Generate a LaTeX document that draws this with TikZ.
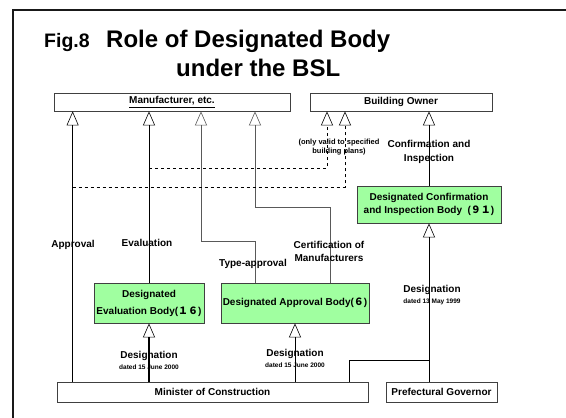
\documentclass[tikz,border=0pt]{standalone}
\usepackage{fontspec}
\setmainfont{Liberation Sans}
\newfontfamily\cjk{Noto Sans CJK JP}
\usetikzlibrary{arrows.meta}
\definecolor{gfill}{RGB}{160,255,160}
\begin{document}
\begin{tikzpicture}[x=1pt,y=-1pt,
  box/.style={draw=black!75, line width=0.7pt, fill=white, inner sep=0pt,
    font=\bfseries\fontsize{10}{12}\selectfont, align=center},
  gbox/.style={box, fill=gfill},
  arr/.style={-{Triangle[open,length=14pt,width=12pt,line width=0.6pt]}, line width=0.6pt},
  lbl/.style={font=\bfseries\fontsize{10}{13}\selectfont, inner sep=0pt, align=center},
  tiny/.style={font=\bfseries\fontsize{7.5}{8.5}\selectfont, inner sep=0pt, align=center},
  desig/.style={inner sep=0pt, align=center},
  ttl/.style={inner sep=0pt, anchor=base west, font=\bfseries\fontsize{24}{28}\selectfont}
]
\useasboundingbox (0,0) rectangle (566,418);
\fill[white] (0,0) rectangle (566,418);
% frame
\draw[line width=1.5pt, black!90] (13,430) -- (13,10) -- (580,10);
% title
\node[ttl, font=\bfseries\fontsize{19.5}{22}\selectfont] (fig) at (44,47) {Fig.8};
\node[ttl] (t1) at (106,47.5) {Role of Designated Body};
\node[ttl] (t2) at (176,76) {under the BSL};
% boxes
\node[box, minimum width=236pt, minimum height=18pt] (manu) at (172,102) {\underline{Manufacturer, etc.}};
\node[box, minimum width=182pt, minimum height=18pt] (owner) at (401,102) {Building Owner};
\node[gbox, minimum width=144pt, minimum height=37pt, font=\bfseries\fontsize{10}{13}\selectfont] (conf) at (429,204.5) {Designated Confirmation\\and Inspection Body\ \ (\cjk\bfseries ９１\rmfamily\bfseries)};
\node[gbox, minimum width=110pt, minimum height=40pt, font=\bfseries\fontsize{10}{17}\selectfont] (eval) at (149,303) {Designated\\Evaluation Body(\cjk\bfseries １６\rmfamily\bfseries)};
\node[gbox, minimum width=148pt, minimum height=40pt] (appr) at (295,303) {Designated Approval Body(\cjk\bfseries ６\rmfamily\bfseries)};
\node[box, minimum width=311pt, minimum height=20pt] (mini) at (212.5,392) {Minister of Construction};
\node[box, minimum width=111pt, minimum height=20pt] (pref) at (441.5,392) {Prefectural Governor};
% helper coordinates
\path (mini.north west) ++(16,0) coordinate (m1);
\path (appr.north west) ++(35,0) coordinate (ta);
\path (appr.north west) ++(110,0) coordinate (cm);
\path (eval.south) ++(0,14) coordinate (es);
\coordinate (tabend) at (201,241);
\coordinate (cmbend) at (255,207);
\coordinate (d1) at (327,168);
\coordinate (d2) at (345,187);
\coordinate (mb) at (349,360);
% connectors to Manufacturer
\draw[arr] (m1) -- (m1 |- manu.south);
\draw[arr] (eval.north) -- (eval.north |- manu.south);
\draw[arr, black!65] (ta) |- (tabend) -- (tabend |- manu.south);
\draw[arr, black!65] (cm) |- (cmbend) -- (cmbend |- manu.south);
% dashed to Building Owner
\draw[arr, dashed] (eval.north |- d1) -- (d1) -- (d1 |- owner.south);
\draw[arr, dashed] (m1 |- d2) -- (d2) -- (d2 |- owner.south);
% confirmation
\draw[arr] (conf.north) -- (conf.north |- owner.south);
\draw[arr] (conf.south |- pref.north) -- (conf.south);
\draw[line width=0.6pt] (mb |- mini.north) |- (mb -| conf.south);
% designations from Minister
\draw[line width=1.6pt] (es |- mini.north) -- (es);
\draw[arr] (es) -- (eval.south);
\draw[arr] (appr.south |- mini.north) -- (appr.south);
% labels
\node[lbl] (lapp) at (73,245) {Approval};
\node[lbl] (leva) at (147,243) {Evaluation};
\node[lbl] (ltyp) at (253,264) {Type-approval};
\node[lbl] (lcer) at (329,251.5) {Certification of\\Manufacturers};
\node[lbl, font=\bfseries\fontsize{10}{14}\selectfont] (lcon) at (429,152) {Confirmation and\\Inspection};
\node[tiny] (lonly) at (339,147) {(only valid to specified\\building plans)};
\node[desig] (ds1) at (149,360) {\bfseries\fontsize{10}{10}\selectfont Designation\\[-1pt]\bfseries\fontsize{6.5}{7}\selectfont dated 15 June 2000};
\node[desig] (ds2) at (295,358) {\bfseries\fontsize{10}{10}\selectfont Designation\\[-1pt]\bfseries\fontsize{6.5}{7}\selectfont dated 15 June 2000};
\node[desig] (ds3) at (432,295) {\bfseries\fontsize{10}{10}\selectfont Designation\\[-1pt]\bfseries\fontsize{6.5}{7}\selectfont dated 13 May 1999};
\end{tikzpicture}
\end{document}
